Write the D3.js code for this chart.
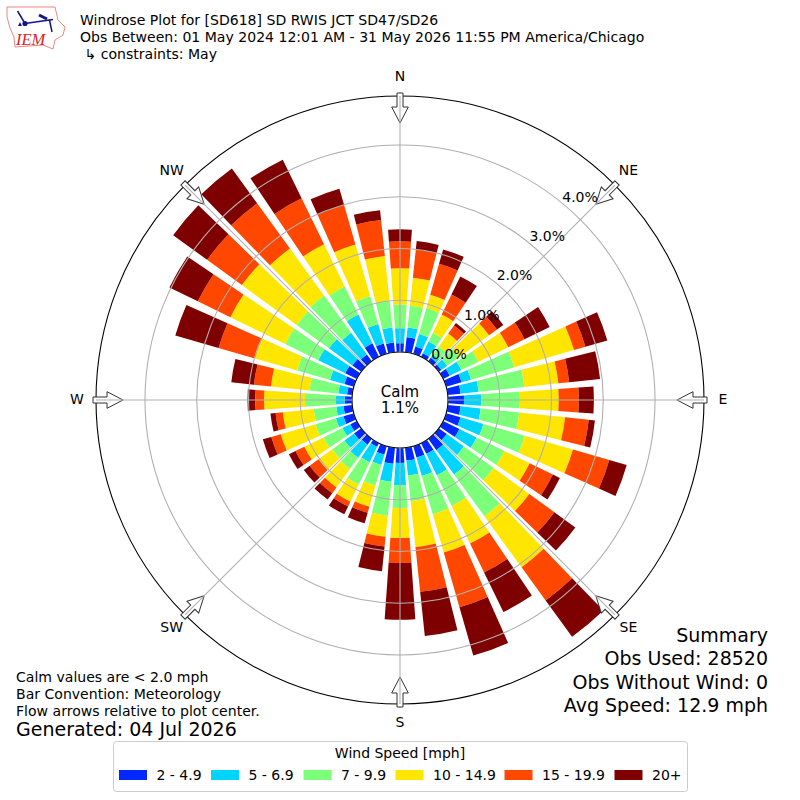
<!DOCTYPE html>
<html>
<head>
<meta charset="utf-8">
<title>Windrose</title>
<script src="https://d3js.org/d3.v7.min.js"></script>
<style>
  body { margin: 0; background: #fff; }
  text { font-family: "DejaVu Sans", sans-serif; fill: #000; }
</style>
</head>
<body>
<div id="chart"></div>
<script>
// direction of each bar, degrees from north
const directions = d3.range(0, 360, 10);
// percent of observations per direction, one list per speed bin
const bin2to5 = [.17,.29,.15,.08,.08,.06,.14,.31,.25,.31,.25,.29,.35,.19,.27,.23,.23,.25,.29,.31,.17,.08,.14,.17,.14,.21,.17,.14,.10,.19,.25,.21,.16,.29,.21,.19];
const bin5to7 = [.29,.19,.25,.25,.08,.14,.25,.19,.35,.33,.39,.46,.37,.41,.58,.46,.37,.29,.43,.35,.21,.33,.31,.23,.17,.15,.14,.17,.17,.29,.58,.56,.52,.62,.39,.29];
const bin7to10 = [.46,.43,.52,.19,.19,.29,.37,.87,.89,.75,.75,.83,.60,.71,1.00,.66,.77,.50,.44,.66,.41,.48,.27,.29,.41,.41,.44,.60,.56,.66,.71,.77,.89,.60,.56,.52];
const bin10to15 = [.70,.54,.27,.39,.31,.71,.64,1.20,.66,.75,.89,.97,.54,.85,1.22,.81,.77,.89,.58,.41,.43,.37,.44,.33,.41,.70,.60,.79,.75,.85,1.18,1.31,1.12,.91,1.04,.87];
const bin15to20 = [.52,.54,.62,.43,.19,.19,.35,.23,.21,.39,.46,.73,.50,.60,.79,.62,1.10,.87,.48,.19,.12,.10,.14,.21,.19,.19,.14,.17,.33,.73,.70,.83,1.08,.99,.79,.70];
const bin20up = [.23,.17,.29,.39,.06,.15,.54,.44,.60,.29,.12,.35,.15,.50,.87,.85,.97,.86,1.10,.48,.21,.17,.15,.14,.14,.17,.10,.15,.44,.87,.61,.81,.83,.83,.33,.19];

const binLabels = ["2 - 4.9", "5 - 6.9", "7 - 9.9", "10 - 14.9", "15 - 19.9", "20+"];
const binColors = ["#0028ff", "#00d4ff", "#7cff79", "#ffe600", "#ff4700", "#7f0000"];
const binLists = [bin2to5, bin5to7, bin7to10, bin10to15, bin15to20, bin20up];

const rTicks = [0, 1, 2, 3, 4];
const compass = [["N", 0], ["NE", 45], ["E", 90], ["SE", 135], ["S", 180], ["SW", 225], ["W", 270], ["NW", 315]];
const titleLines = ["Windrose Plot for [SD618] SD RWIS JCT SD47/SD26",
  "Obs Between: 01 May 2024 12:01 AM - 31 May 2026 11:55 PM America/Chicago",
  " \u21b3 constraints: May"];
const noteLines = ["Calm values are < 2.0 mph", "Bar Convention: Meteorology", "Flow arrows relative to plot center."];
const summaryLines = ["Summary", "Obs Used: 28520", "Obs Without Wind: 0", "Avg Speed: 12.9 mph"];

const svg = d3.select("#chart").append("svg").attr("width", 800).attr("height", 800);
const plot = svg.append("g").attr("transform", "translate(400,400)");

const r = d3.scaleLinear().domain([0, 4]).range([48, 255]);
const rMax = r.invert(304);
const toRad = d3.scaleLinear().domain([0, 360]).range([0, 2 * Math.PI]);
const barWidth = 8;

// stack the bins per direction
const rows = directions.map((d, i) => {
  const row = { dir: d };
  binLists.forEach((list, j) => { row["b" + j] = list[i]; });
  return row;
});
const series = d3.stack().keys(binLists.map((_, j) => "b" + j))(rows);

const arc = d3.arc();
plot.append("g").selectAll("g")
  .data(series)
  .join("g")
  .attr("fill", (s, j) => binColors[j])
  .selectAll("path")
  .data(s => s)
  .join("path")
  .attr("d", d => arc({
    innerRadius: r(d[0]),
    outerRadius: r(d[1]),
    startAngle: toRad(d.data.dir - barWidth / 2),
    endAngle: toRad(d.data.dir + barWidth / 2)
  }));

// grid over the bars
plot.append("g").selectAll("circle")
  .data(rTicks)
  .join("circle")
  .attr("r", d => r(d))
  .attr("fill", "none")
  .attr("stroke", "#b0b0b0")
  .attr("stroke-width", 1.1);

plot.append("circle").attr("r", r(rMax)).attr("fill", "none").attr("stroke", "#000").attr("stroke-width", 1.1);
plot.append("circle").attr("r", r(0)).attr("fill", "#fff").attr("stroke", "#000").attr("stroke-width", 1.1);

// flow arrows, the spokes show through them
plot.append("g").selectAll("path")
  .data(compass)
  .join("path")
  .attr("d", "M-3,-307 L3,-307 L3,-293 L8.3,-293 L0,-277 L-8.3,-293 L-3,-293 Z")
  .attr("transform", d => `rotate(${d[1]})`)
  .attr("fill", "#fff")
  .attr("stroke", "#333")
  .attr("stroke-width", 1);

plot.append("g").selectAll("line")
  .data(compass)
  .join("line")
  .attr("x1", d => r(0) * Math.sin(toRad(d[1])))
  .attr("y1", d => -r(0) * Math.cos(toRad(d[1])))
  .attr("x2", d => r(rMax) * Math.sin(toRad(d[1])))
  .attr("y2", d => -r(rMax) * Math.cos(toRad(d[1])))
  .attr("stroke", "#b0b0b0")
  .attr("stroke-width", 1.1);

// direction labels
plot.append("g").selectAll("text")
  .data(compass)
  .join("text")
  .attr("x", d => 323 * Math.sin(toRad(d[1])))
  .attr("y", d => -323 * Math.cos(toRad(d[1])) - 1.5)
  .attr("text-anchor", "middle")
  .attr("dominant-baseline", "central")
  .attr("font-size", 14)
  .text(d => d[0]);

// radial tick labels
plot.append("g").selectAll("text")
  .data(rTicks)
  .join("text")
  .attr("x", d => r(d) * 0.633 + 18.6)
  .attr("y", d => -r(d) * 0.76 - 9.6)
  .attr("text-anchor", "middle")
  .attr("dominant-baseline", "central")
  .attr("font-size", 14)
  .text(d => d.toFixed(1) + "%");

plot.append("text").attr("y", -8.5).attr("text-anchor", "middle").attr("dominant-baseline", "central").attr("font-size", 15).text("Calm");
plot.append("text").attr("y", 8).attr("text-anchor", "middle").attr("dominant-baseline", "central").attr("font-size", 15).text("1.1%");

// header
svg.append("g").selectAll("text")
  .data(titleLines)
  .join("text")
  .attr("x", 80)
  .attr("y", (d, i) => 25 + i * 17.2)
  .attr("font-size", 14.05)
  .attr("xml:space", "preserve")
  .text(d => d);

// bottom left notes
svg.append("g").selectAll("text")
  .data(noteLines)
  .join("text")
  .attr("x", 16)
  .attr("y", (d, i) => 682 + i * 17.2)
  .attr("font-size", 14.05)
  .text(d => d);
svg.append("text").attr("x", 16).attr("y", 736).attr("font-size", 19).text("Generated: 04 Jul 2026");

// summary
svg.append("g").selectAll("text")
  .data(summaryLines)
  .join("text")
  .attr("x", 768)
  .attr("y", (d, i) => 642 + i * 23.3)
  .attr("text-anchor", "end")
  .attr("font-size", 19)
  .text(d => d);

// legend
const legend = svg.append("g");
legend.append("rect").attr("x", 113.5).attr("y", 741.5).attr("width", 574).attr("height", 50).attr("rx", 3)
  .attr("fill", "#fff").attr("stroke", "#ccc").attr("stroke-width", 1);
legend.append("text").attr("x", 400).attr("y", 758).attr("text-anchor", "middle").attr("font-size", 14).text("Wind Speed [mph]");
const swatchX = [119, 211, 303.5, 395.5, 504.5, 614.5];
legend.selectAll("rect.sw")
  .data(binLabels)
  .join("rect")
  .attr("class", "sw")
  .attr("x", (d, i) => swatchX[i])
  .attr("y", 770)
  .attr("width", 28)
  .attr("height", 10)
  .attr("fill", (d, i) => binColors[i]);
legend.selectAll("text.lab")
  .data(binLabels)
  .join("text")
  .attr("class", "lab")
  .attr("x", (d, i) => swatchX[i] + 37.5)
  .attr("y", 780)
  .attr("font-size", 14)
  .text(d => d);

// IEM logo
const logo = svg.append("g");
logo.append("path")
  .attr("d", "M7,7 L55,7 L58,20 L65,27 L63,35 L55,40 L53,49 L43,45 L15,47 L14,37 L10,28 L7,17 Z")
  .attr("fill", "#fff").attr("stroke", "#e77").attr("stroke-width", 0.9);
logo.append("path")
  .attr("d", "M25,23.5 L53,19.5 M17.5,11 L25,23.5 M49.5,20 L52,32")
  .attr("fill", "none").attr("stroke", "#14148c").attr("stroke-width", 1.5);
logo.append("path")
  .attr("d", "M39,15 L47,19")
  .attr("fill", "none").attr("stroke", "#14148c").attr("stroke-width", 3);
logo.append("circle").attr("cx", 25).attr("cy", 23.5).attr("r", 2.6).attr("fill", "#14148c");
logo.append("path").attr("d", "M20,22 L22,26 L18,26 Z").attr("fill", "#14148c");
logo.append("text").attr("x", 16).attr("y", 44.5).attr("font-size", 16.5)
  .style("font-family", "'Liberation Serif', serif").style("font-style", "italic").style("fill", "#d22").text("IEM");
</script>
</body>
</html>
